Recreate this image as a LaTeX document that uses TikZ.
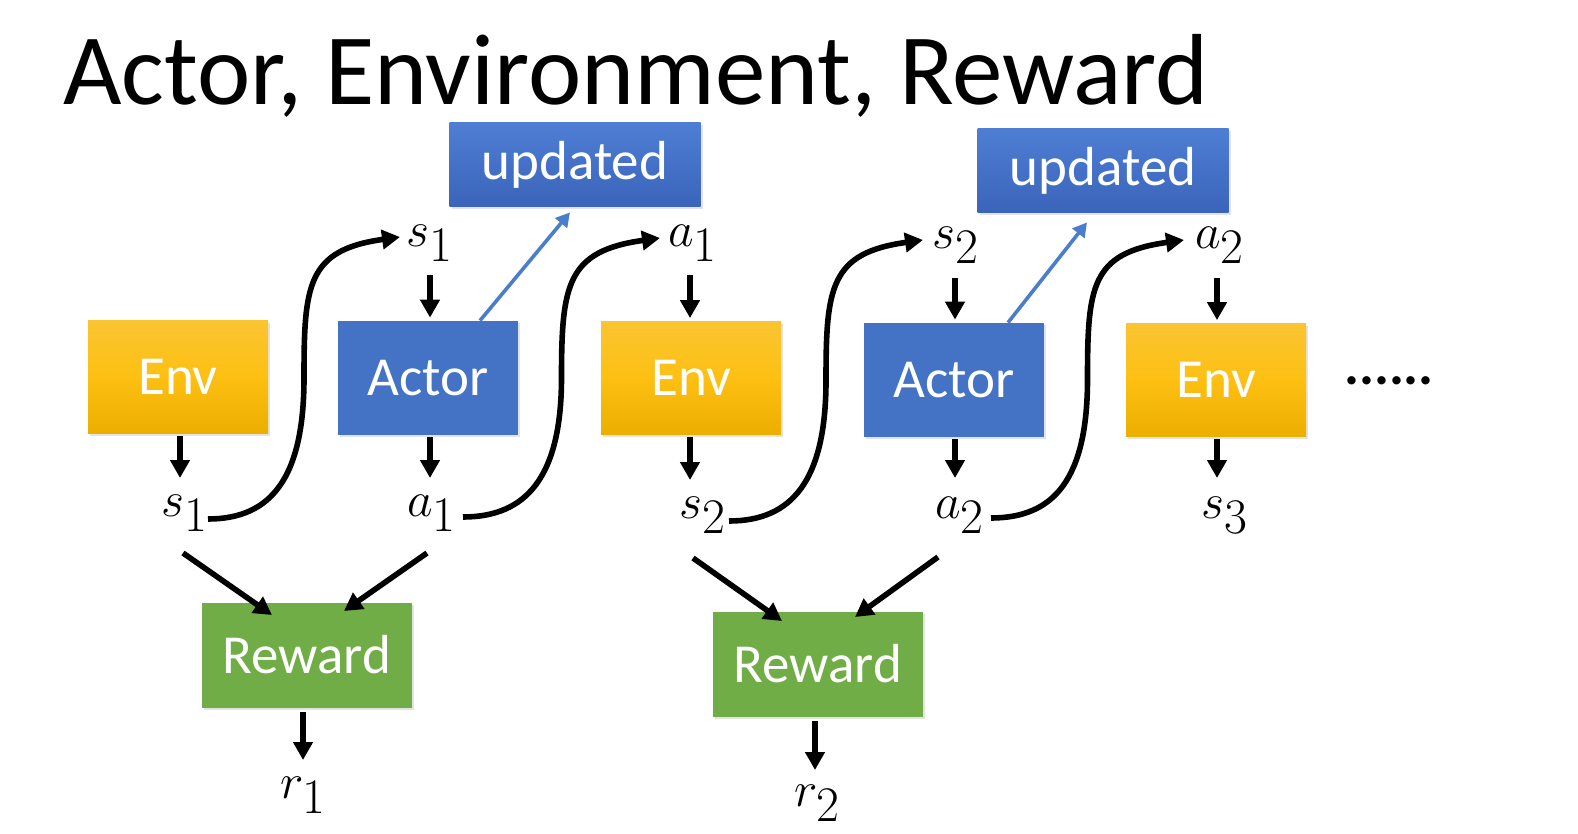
\documentclass[tikz,border=0pt]{standalone}
\usepackage{fontspec}
\setmainfont{Carlito}
\usetikzlibrary{arrows.meta,shadows,calc}
\definecolor{envc}{RGB}{253,192,18}
\definecolor{envt}{RGB}{250,196,50}
\definecolor{envd}{RGB}{236,174,0}
\definecolor{actc}{RGB}{68,114,196}
\definecolor{updt}{RGB}{78,126,212}
\definecolor{updb}{RGB}{58,100,186}
\definecolor{rewc}{RGB}{112,173,71}
\definecolor{bluearr}{RGB}{75,125,205}
\tikzset{
  box/.style={rectangle, draw=none, text=white, font=\fontsize{27.5}{32}\selectfont, inner sep=0pt,
    drop shadow={opacity=0.22, shadow xshift=1pt, shadow yshift=-1.2pt}},
  envbox/.style={box, top color=envt, bottom color=envd, middle color=envc, minimum width=90pt, minimum height=56.5pt},
  actbox/.style={box, fill=actc, minimum width=90pt, minimum height=57pt},
  updbox/.style={box, top color=updt, bottom color=updb, minimum width=125.5pt, minimum height=42pt},
  rewbox/.style={box, fill=rewc, minimum width=105pt, minimum height=52.5pt},
  lab/.style={inner sep=1pt, font=\fontsize{33}{38}\selectfont},
  arr/.style={line width=2.8pt, -{Triangle[length=9pt,width=9.5pt]}},
  barr/.style={line width=1.8pt, draw=bluearr, -{Triangle[length=7pt,width=7.5pt]}, bluearr},
}
\begin{document}
\begin{tikzpicture}[x=0.5pt,y=-0.5pt]
\useasboundingbox (0,0) rectangle (1578,834);
\fill[white] (0,0) rectangle (1578,834);
% title
\node[anchor=base west, inner sep=0pt, font=\fontsize{50.5}{56}\selectfont] (title) at (63,105) {Actor, Environment, Reward};
% boxes
\node[envbox] (env1) at (178,377) {Env};
\node[actbox] (act1) at (428,378) {Actor};
\node[envbox] (env2) at (691,378) {Env};
\node[actbox] (act2) at (954,380) {Actor};
\node[envbox] (env3) at (1216,380) {Env};
\node[updbox] (upd1) at (575,165) {updated};
\node[updbox] (upd2) at (1103,171) {updated};
\node[rewbox] (rew1) at (307,655) {Reward};
\node[rewbox] (rew2) at (818,664) {Reward};
\node[inner sep=0pt, font=\fontsize{28}{30}\selectfont\bfseries] (dots) at (1389,381) {......};
% labels
\node[lab] (ts1) at (430,243) {$s_1$};
\node[lab] (ta1) at (693,243) {$a_1$};
\node[lab] (ts2) at (956,245) {$s_2$};
\node[lab] (ta2) at (1220,245) {$a_2$};
\node[lab] (bs1) at (185,513) {$s_1$};
\node[lab] (ba1) at (432,513) {$a_1$};
\node[lab] (bs2) at (703,515) {$s_2$};
\node[lab] (ba2) at (960,515) {$a_2$};
\node[lab] (bs3) at (1225,515) {$s_3$};
\node[lab] (r1) at (303,795) {$r_1$};
\node[lab] (r2) at (817,803) {$r_2$};
% vertical arrows
\draw[arr] ($(env1.south)+(2,2)$) -- ($(bs1)+(-5,-35)$);
\draw[arr] ($(ts1)+(0,32)$) -- ($(act1.north)+(2,-3)$);
\draw[arr] ($(act1.south)+(2,2)$) -- ($(ba1)+(-2,-35)$);
\draw[arr] ($(ta1)+(-3,32)$) -- ($(env2.north)+(-1,-3)$);
\draw[arr] ($(env2.south)+(-1,2)$) -- ($(bs2)+(-13,-35)$);
\draw[arr] ($(ts2)+(-1,33)$) -- ($(act2.north)+(1,-3)$);
\draw[arr] ($(act2.south)+(1,2)$) -- ($(ba2)+(-5,-37)$);
\draw[arr] ($(ta2)+(-3,33)$) -- ($(env3.north)+(1,-3)$);
\draw[arr] ($(env3.south)+(1,2)$) -- ($(bs3)+(-8,-37)$);
% to reward
\draw[arr] ($(bs1)+(-2,40)$) -- ($(rew1)+(-35,-40)$);
\draw[arr] ($(ba1)+(-5,40)$) -- ($(rew1)+(37,-44)$);
\draw[arr] ($(bs2)+(-10,43)$) -- ($(rew2)+(-36,-43)$);
\draw[arr] ($(ba2)+(-22,42)$) -- ($(rew2)+(37,-47)$);
\draw[arr] ($(rew1.south)+(-4,4)$) -- ($(r1)+(0,-35)$);
\draw[arr] ($(rew2.south)+(-3,4)$) -- ($(r2)+(-2,-33)$);
% S-curves
\coordinate (c1s) at ($(bs1)+(23,6)$);   \coordinate (c1e) at ($(ts1)+(-30,-6)$);
\coordinate (c2s) at ($(ba1)+(31,4)$);   \coordinate (c2e) at ($(ta1)+(-33,-5)$);
\coordinate (c3s) at ($(bs2)+(26,6)$);   \coordinate (c3e) at ($(ts2)+(-33,-5)$);
\coordinate (c4s) at ($(ba2)+(31,3)$);   \coordinate (c4e) at ($(ta2)+(-36,-5)$);
\foreach \i in {1,2,3,4}{
  \draw[arr] (c\i s) .. controls +(63,0) and +(0,100) .. ($(c\i s)!0.5!(c\i e)$)
     .. controls +(0,-93) and +(-93,13) .. (c\i e);
}
% blue update arrows
\draw[barr] ($(act1.north)+(52,0)$) -- ($(upd1.south)+(-5,5)$);
\draw[barr] ($(act2.north)+(54,0)$) -- ($(upd2.south)+(-16,9)$);
\end{tikzpicture}
\end{document}
